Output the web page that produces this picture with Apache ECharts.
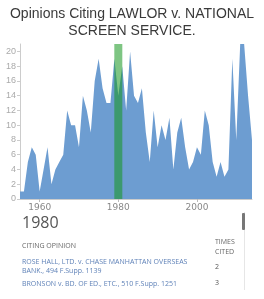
<!DOCTYPE html>
<html>
<head>
<meta charset="utf-8">
<script src="https://cdn.jsdelivr.net/npm/echarts@6/dist/echarts.min.js"></script>
<style>
	html, body { margin: 0; padding: 0; background: #fff; }
	#chart { width: 264px; height: 299px; }
</style>
</head>
<body>
<div id="chart"></div>
<script>
var titleText = "Opinions Citing LAWLOR v. NATIONAL\nSCREEN SERVICE.";

var years = [
	"1955", "1956", "1957", "1958", "1959", "1960", "1961", "1962", "1963", "1964",
	"1965", "1966", "1967", "1968", "1969", "1970", "1971", "1972", "1973", "1974",
	"1975", "1976", "1977", "1978", "1979", "1980", "1981", "1982", "1983", "1984",
	"1985", "1986", "1987", "1988", "1989", "1990", "1991", "1992", "1993", "1994",
	"1995", "1996", "1997", "1998", "1999", "2000", "2001", "2002", "2003", "2004",
	"2005", "2006", "2007", "2008", "2009", "2010", "2011", "2012", "2013", "2014"
];

var citations = [
	1, 1, 5, 7, 6, 1, 4, 7, 2, 4,
	5, 6, 12, 10, 10, 7, 14, 12, 9, 16,
	19, 15, 13, 13, 19, 14, 18, 12, 20, 14,
	13, 15, 9, 5, 12, 7, 10, 8, 11, 4,
	9, 11, 7, 4, 5, 7, 6, 12, 10, 5,
	3, 5, 3, 4, 19, 8, 21, 21, 14, 8
];

var selectedYear = "1980";
var yMax = 21;

var tableHeader = ["CITING OPINION", "TIMES\nCITED"];
var opinions = [
	"ROSE HALL, LTD. v. CHASE MANHATTAN OVERSEAS\nBANK., 494 F.Supp. 1139",
	"BRONSON v. BD. OF ED., ETC., 510 F.Supp. 1251"
];
var timesCited = ["2", "3"];

var CitingChart = {
	chart: null,
	init: function() {
		this.chart = echarts.init(document.getElementById("chart"));
		this.chart.setOption(this.buildOption());
	},

	showEvery20: function(index, value) {
		return Number(value) % 20 === 0;
	},

	buildOption: function() {
		var highlight = years.map(function(y) {
			return y === selectedYear ? yMax : "-";
		});
		var tableFont = "'Open Sans', sans-serif";

		var graphics = [{
			type: "text",
			left: 22,
			top: 215,
			style: { text: selectedYear, fill: "#555", font: "16px 'Open Sans', sans-serif" }
		}, {
			type: "text",
			left: 22,
			top: 242,
			style: { text: tableHeader[0], fill: "#666", font: "7px " + tableFont }
		}, {
			type: "text",
			left: 215,
			top: 237,
			style: { text: tableHeader[1], fill: "#666", font: "7px " + tableFont, lineHeight: 10 }
		}, {
			// scrollbar
			type: "rect",
			left: 244,
			top: 212,
			shape: { width: 1, height: 78 },
			style: { fill: "#e6e6e6" }
		}, {
			type: "rect",
			left: 242,
			top: 213,
			shape: { width: 3, height: 17, r: 1 },
			style: { fill: "#777" }
		}];

		var rowTops = [257, 279];
		opinions.forEach(function(op, i) {
			graphics.push({
				type: "text",
				left: 22,
				top: rowTops[i],
				style: { text: op, fill: "#5f82b8", font: "7px " + tableFont, lineHeight: 9 }
			});
			graphics.push({
				type: "text",
				left: 215,
				top: i === 0 ? 263 : rowTops[i],
				style: { text: timesCited[i], fill: "#555", font: "7px " + tableFont }
			});
		});

		return {
			animation: false,
			title: {
				text: titleText,
				left: "center",
				top: 1,
				textStyle: {
					color: "#3a3a3a",
					fontFamily: "Liberation Sans",
					fontWeight: "normal",
					fontSize: 14,
					lineHeight: 17
				}
			},
			grid: { left: 20, right: 12, top: 44, height: 155 },
			xAxis: {
				type: "category",
				data: years,
				boundaryGap: false,
				axisLine: { lineStyle: { color: "#ccc" } },
				axisTick: { interval: this.showEvery20, length: 3, lineStyle: { color: "#bbb" } },
				axisLabel: {
					interval: this.showEvery20,
					color: "#888",
					fontSize: 9,
					margin: 4,
					fontFamily: "DejaVu Sans"
				}
			},
			yAxis: {
				type: "value",
				min: 0,
				max: yMax,
				interval: 2,
				axisLine: { show: true, lineStyle: { color: "#ccc" } },
				axisTick: { show: true, length: 3, lineStyle: { color: "#ccc" } },
				splitLine: { show: false },
				axisLabel: { color: "#aaa", fontSize: 9, margin: 4 }
			},
			series: [{
				type: "line",
				data: citations,
				z: 2,
				showSymbol: false,
				lineStyle: { width: 0 },
				areaStyle: { color: "#6d9dd1", opacity: 1 }
			}, {
				type: "bar",
				data: highlight,
				z: 5,
				barWidth: 8,
				itemStyle: { color: "rgba(20,150,30,0.55)" }
			}],
			graphic: graphics
		};
	}
};

CitingChart.init();
</script>
</body>
</html>
